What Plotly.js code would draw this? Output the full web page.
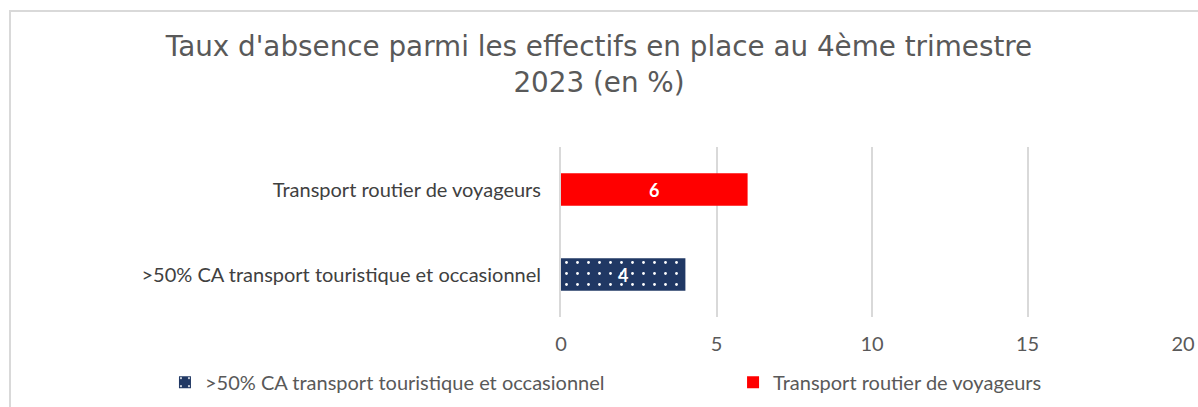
<!DOCTYPE html>
<html><head><meta charset="utf-8">
<script src="https://cdn.plot.ly/plotly-3.0.1.min.js"></script>
<style>html,body{margin:0;padding:0;background:#fff;}#wrap{position:relative;width:1198px;height:407px;overflow:hidden}
#frame{position:absolute;left:9px;top:10px;width:1300px;height:500px;border-left:2px solid #d9d9d9;border-top:2px solid #d9d9d9;pointer-events:none}</style>
</head><body><div id="wrap"><div id="chart" style="width:1198px;height:407px"></div><div id="frame"></div></div>
<script>
const categories = [">50% CA transport touristique et occasionnel", "Transport routier de voyageurs"];
const seriesNames = [">50% CA transport touristique et occasionnel", "Transport routier de voyageurs"];
const values = [4, 6];
const colors = ["#203864", "#ff0000"];
const xTicks = [0, 5, 10, 15, 20];
const legendIds = ['legend', 'legend2'];

const traces = seriesNames.map((name, i) => ({
  type: 'bar', orientation: 'h', name: name,
  y: [categories[i]], x: [values[i]],
  width: 0.38,
  legend: legendIds[i],
  marker: {color: colors[i], line: {width: 0},
    pattern: i === 0 ? {shape: '.', fgcolor: '#ffffff', bgcolor: colors[i], size: 11, solidity: 0.05} : undefined},
  text: [String(values[i])], textposition: 'inside', insidetextanchor: 'middle',
  textfont: {color: '#ffffff', size: 18, family: 'Lato, sans-serif', weight: 'bold'},
  hoverinfo: 'x+y'
}));

const legFont = {family: 'Lato, sans-serif', size: 20, color: '#595959'};
const layout = {
  width: 1198, height: 407,
  margin: {l: 561, r: 15, t: 147, b: 90},
  paper_bgcolor: '#ffffff', plot_bgcolor: '#ffffff',
  title: {text: "Taux d'absence parmi les effectifs en place au 4ème trimestre<br>2023 (en %)",
    font: {family: '"DejaVu Sans", sans-serif', size: 27.8, color: '#595959'},
    x: 0.5, xanchor: 'center', y: 0.862, yanchor: 'top'},
  barmode: 'overlay',
  xaxis: {range: [0, 20], tickvals: xTicks, showgrid: true, gridcolor: '#d9d9d9', gridwidth: 2,
    zeroline: false, showline: false, ticks: '', ticklabelstandoff: 13, automargin: false,
    tickfont: {family: 'Lato, sans-serif', size: 20, color: '#595959'}},
  yaxis: {categoryorder: 'array', categoryarray: categories, range: [-0.5, 1.5], automargin: false,
    showgrid: false, zeroline: false, showline: true, linecolor: '#d9d9d9', linewidth: 2, ticks: '',
    ticklabelstandoff: 14,
    tickfont: {family: 'Lato, sans-serif', size: 20, color: '#404040'}},
  showlegend: true,
  legend: {orientation: 'h', xref: 'container', yref: 'container', x: 0.1377, xanchor: 'left', y: 0.109, yanchor: 'top', font: legFont, bgcolor: 'rgba(0,0,0,0)'},
  legend2: {orientation: 'h', xref: 'container', yref: 'container', x: 0.6119, xanchor: 'left', y: 0.109, yanchor: 'top', font: legFont, bgcolor: 'rgba(0,0,0,0)'}
};
Plotly.newPlot('chart', traces, layout, {displayModeBar: false});
</script></body></html>
